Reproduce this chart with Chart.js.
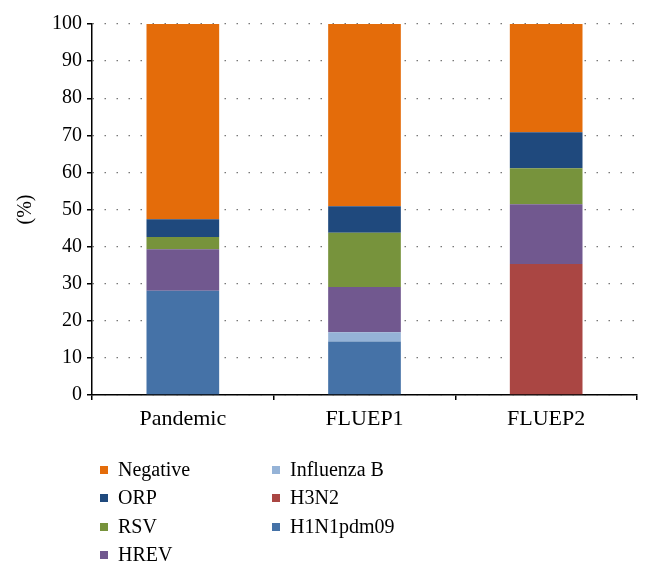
<!DOCTYPE html>
<html>
<head>
<meta charset="utf-8">
<script src="https://cdn.jsdelivr.net/npm/chart.js@4"></script>
<style>
  html, body { margin: 0; padding: 0; background: #fff; }
  #wrap { width: 651px; height: 575px; position: relative; }
</style>
</head>
<body>
<div id="wrap"><canvas id="myChart"></canvas></div>
<script>
const categories = ['Pandemic', 'FLUEP1', 'FLUEP2'];

// stacked from bottom to top
const h1n1 = [28.1, 14.4, 0];
const h3n2 = [0, 0, 35.3];
const fluB = [0, 2.5, 0];
const hrev = [11.2, 12.2, 16.1];
const rsv = [3.3, 14.6, 9.7];
const orp = [4.8, 7.2, 9.7];
const negative = [52.6, 49.1, 29.2];

const yTicks = [0, 10, 20, 30, 40, 50, 60, 70, 80, 90, 100];

// legend in two columns, top to bottom
const legendCols = [
  ['Negative', 'ORP', 'RSV', 'HREV'],
  ['Influenza B', 'H3N2', 'H1N1pdm09']
];

const FONT = '"Liberation Serif", "Times New Roman", serif';

const data = {
  labels: categories,
  datasets: [
    { label: 'H1N1pdm09', data: h1n1, backgroundColor: '#4572A7' },
    { label: 'H3N2', data: h3n2, backgroundColor: '#AA4643' },
    { label: 'Influenza B', data: fluB, backgroundColor: '#95B3D7' },
    { label: 'HREV', data: hrev, backgroundColor: '#71588F' },
    { label: 'RSV', data: rsv, backgroundColor: '#77933C' },
    { label: 'ORP', data: orp, backgroundColor: '#1F497D' },
    { label: 'Negative', data: negative, backgroundColor: '#E46C0A' }
  ]
};

// legend drawn below the plot, column by column
const columnLegend = {
  id: 'columnLegend',
  afterDraw(chart) {
    const ctx = chart.ctx;
    const colX = [100, 272];
    const rowY = [470, 498, 527, 555];
    ctx.save();
    ctx.font = '20px ' + FONT;
    ctx.textBaseline = 'middle';
    ctx.textAlign = 'left';
    legendCols.forEach((col, c) => {
      col.forEach((name, r) => {
        const ds = chart.data.datasets.find(d => d.label === name);
        ctx.fillStyle = ds.backgroundColor;
        ctx.fillRect(colX[c], rowY[r] - 4, 8, 8);
        ctx.fillStyle = '#000';
        ctx.fillText(name, colX[c] + 18, rowY[r] + 1);
      });
    });
    ctx.restore();
  }
};

const config = {
  type: 'bar',
  data,
  options: {
    responsive: true,
    maintainAspectRatio: false,
    animation: false,
    layout: { padding: { top: 24, right: 14, bottom: 144, left: 0 } },
    datasets: { bar: { barPercentage: 0.4, categoryPercentage: 1 } },
    plugins: {
      legend: { display: false },
      tooltip: { enabled: false }
    },
    scales: {
      x: {
        stacked: true,
        afterFit(scale) { scale.height = 36; },
        border: { display: true, color: '#000', width: 1.5 },
        grid: {
          offset: true,
          drawOnChartArea: false,
          drawTicks: true,
          tickLength: 5,
          color: '#000',
          lineWidth: 1.5
        },
        ticks: {
          color: '#000',
          padding: 6,
          font: { family: FONT, size: 22 }
        }
      },
      y: {
        stacked: true,
        min: 0,
        max: 100,
        afterFit(scale) { scale.width = 92; },
        afterBuildTicks(scale) { scale.ticks = yTicks.map(v => ({ value: v })); },
        border: { display: true, color: '#000', width: 1.5, dash: [1.5, 10.5] },
        grid: {
          color: '#777',
          lineWidth: 1.3,
          drawTicks: true,
          tickLength: 5,
          tickColor: '#000',
          tickBorderDash: [1, 0],
          tickWidth: 1.5
        },
        ticks: {
          color: '#000',
          padding: 5,
          font: { family: FONT, size: 20 }
        },
        title: {
          display: true,
          text: '(%)',
          color: '#000',
          padding: { top: 14, bottom: 0 },
          font: { family: FONT, size: 20 }
        }
      }
    }
  },
  plugins: [columnLegend]
};

const myChart = new Chart(document.getElementById('myChart'), config);
</script>
</body>
</html>
